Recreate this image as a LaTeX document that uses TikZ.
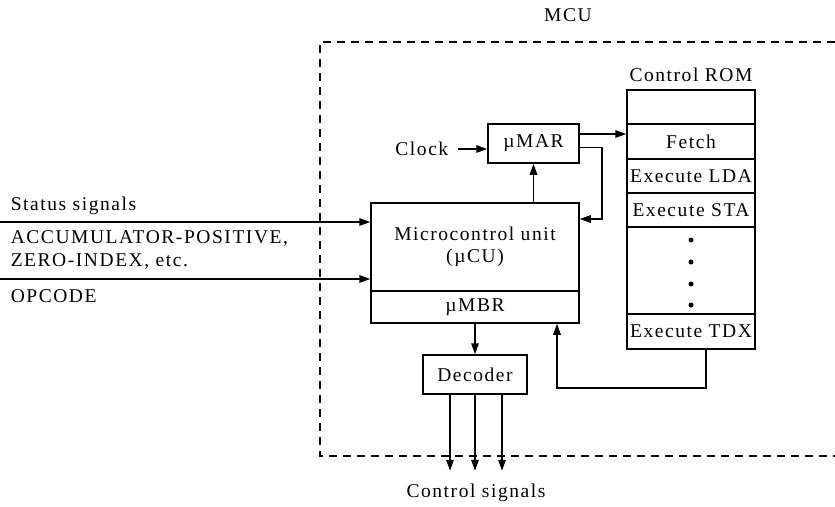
\documentclass[tikz,border=0pt]{standalone}
\usepackage{fontspec}
\setmainfont{Liberation Serif}[LetterSpace=8]
\usetikzlibrary{arrows.meta}
\begin{document}
\begin{tikzpicture}[x=1pt,y=-1pt,
  font=\fontsize{19.5}{22.5}\selectfont,
  line width=1.5pt,
  arr/.style={-{Triangle[length=11pt,width=7.5pt]}},
  box/.style={draw,inner sep=0pt,minimum width=#1},
  romrow/.style={draw,inner sep=0pt,minimum width=128pt,minimum height=#1},
  mcubox/.style={draw,line width=1.1pt,dash pattern=on 8pt off 6pt}]
\useasboundingbox (0,0) rectangle (835,506);
% dashed MCU boundary
\draw[mcubox] (835,42) -- (320,42) -- (320,456) -- (835,456);
\node (mculabel) at (568,15) {MCU};
% Control ROM
\node (romlabel) at (691,75) {Control ROM};
\node[romrow=34pt] (romtop) at (691,107) {};
\node[romrow=35pt] (fetch) at (691,141.5) {Fetch};
\node[romrow=34pt] (lda) at (691,176) {Execute LDA};
\node[romrow=34pt] (sta) at (691,210) {Execute STA};
\node[romrow=87pt] (dots) at (691,270.5) {};
\node[romrow=35pt] (tdx) at (691,331.5) {Execute TDX};
\foreach \yy in {240,262,284,305} \fill (691,\yy) circle (2.5pt);
% uMAR
\node[box=91pt,minimum height=39pt] (mar) at (533.5,143.5) {µMAR};
\node[anchor=east,inner sep=0pt] (clock) at (449,149) {Clock};
% uCU and uMBR
\node[box=208pt,minimum height=88pt,align=center] (mcu) at (475,247) {Microcontrol unit\\(µCU)};
\node[box=208pt,minimum height=32pt] (mbr) at (475,307) {µMBR};
% Decoder
\node[box=104pt,minimum height=39pt] (dec) at (475,374.5) {Decoder};
% left labels
\node[anchor=west,inner sep=0pt] (status) at (10,206) {Status signals};
\node[anchor=west,inner sep=0pt,align=left] (acc) at (10,250) {ACCUMULATOR-POSITIVE,\\ZERO-INDEX, etc.};
\node[anchor=west,inner sep=0pt] (opcode) at (10,296) {OPCODE};
\node (ctrl) at (476,493) {Control signals};
% connectors
\coordinate (s1) at (0,222);
\coordinate (s2) at (0,279);
\draw[arr] (s1) -- (s1 -| mcu.west);
\draw[arr] (s2) -- (s2 -| mcu.west);
\draw[arr] ([xshift=9pt]clock.east) -- (clock.east -| mar.west);
\draw[arr] ([yshift=9.5pt]mar.east) -- ([yshift=9.5pt]mar.east -| fetch.west);
\coordinate (fb) at (602,219);
\draw[arr] ([yshift=-4pt]mar.east) -| (fb) -- (fb -| mcu.east);
\draw[arr] (mcu.north -| mar.south) -- (mar.south);
\draw[arr] (mbr.south) -- (dec.north);
\coordinate (r1) at (706,388);
\draw[arr] (r1 |- tdx.south) -- (r1) -| ([xshift=82pt]mbr.south);
\draw[arr] ([xshift=-25pt]dec.south) -- ++(0,76);
\draw[arr] (dec.south) -- ++(0,76);
\draw[arr] ([xshift=27pt]dec.south) -- ++(0,76);
\end{tikzpicture}
\end{document}
